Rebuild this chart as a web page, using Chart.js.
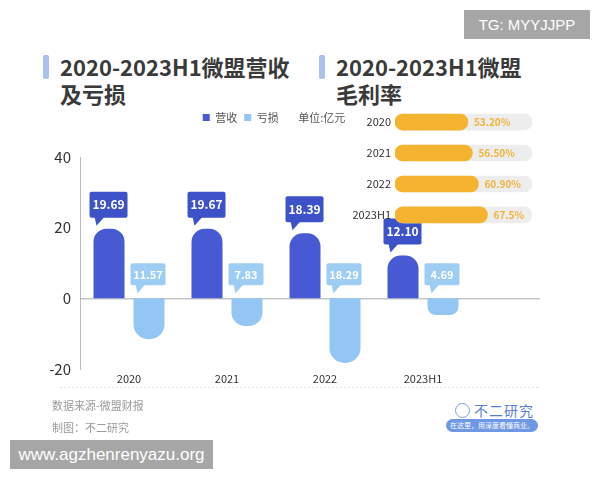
<!DOCTYPE html>
<html>
<head>
<meta charset="utf-8">
<script src="https://cdn.jsdelivr.net/npm/chart.js@4.4.1/dist/chart.umd.min.js"></script>
<style>
  body { margin: 0; width: 600px; height: 480px; background: #fff; position: relative; overflow: hidden;
         font-family: "Noto Sans CJK SC", "Noto Sans", sans-serif; }
  .bar { position: absolute; width: 6px; height: 24px; background: #a9c0f0; border-radius: 2px; }
  .title { position: absolute; font-size: 22px; font-weight: bold; color: #3a3a3a; line-height: 27px; }
  .src { position: absolute; left: 52px; font-size: 11px; color: #9a9a9a; }
  canvas { position: absolute; }
  .wm { position: absolute; background: #a6a6a6; color: #fff; font-family: "Liberation Sans", Arial, sans-serif; }
</style>
</head>
<body>
<div class="bar" style="left:43px; top:55px"></div>
<div class="title" style="left:60px; top:53px">2020-2023H1微盟营收<br>及亏损</div>
<div class="bar" style="left:319px; top:55px"></div>
<div class="title" style="left:336px; top:53px">2020-2023H1微盟<br>毛利率</div>

<canvas id="chartRev" style="left:0; top:105px" width="600" height="295"></canvas>
<canvas id="chartMargin" style="left:340px; top:96px" width="200" height="145"></canvas>

<div class="src" style="top:397px">数据来源-微盟财报</div>
<div class="src" style="top:419px">制图：不二研究</div>

<div style="position:absolute; left:474px; top:400px; font-size:14px; color:#5b7fd0; letter-spacing:1px">不二研究</div>
<div style="position:absolute; left:455px; top:403px; width:13px; height:13px; border:1.5px solid #7f9ee0; border-radius:50%"></div>
<div style="position:absolute; left:446px; top:419px; width:92px; height:13px; background:#6f98e4; border-radius:7px; color:#fff; font-size:7px; line-height:13px; text-align:center">在这里，用深度看懂商业。</div>

<div class="wm" style="left:10px; top:440px; width:203px; height:29px; font-size:17px; line-height:29px; text-align:center">www.agzhenrenyazu.org</div>
<div class="wm" style="left:464px; top:10px; width:126px; height:29px; font-size:15px; line-height:29px; text-align:center">TG: MYYJJPP</div>

<script>
Chart.defaults.font.family = '"Noto Sans CJK SC", "Noto Sans", sans-serif';
Chart.defaults.color = '#333';

const years = ['2020', '2021', '2022', '2023H1'];
const revenue = [19.69, 19.67, 18.39, 12.10];
const loss = [-11.57, -7.83, -18.29, -4.69];
const seriesNames = ['营收', '亏损'];
const unitText = '单位:亿元';
const yTicks = [-20, 0, 20, 40];

const marginYears = ['2020', '2021', '2022', '2023H1'];
const grossMargin = [53.2, 56.5, 60.9, 67.5];
const marginText = ['53.20%', '56.50%', '60.90%', '67.5%'];

const revColor = '#4759d3';
const lossColor = '#93c6f2';

function callout(ctx, left, bottom, w, h, color, text, fontSize) {
    ctx.save();
    ctx.fillStyle = color;
    ctx.beginPath();
    ctx.roundRect(left, bottom - h, w, h, 2);
    ctx.fill();
    ctx.beginPath();
    ctx.moveTo(left + 5, bottom - 1);
    ctx.lineTo(left + 15, bottom - 1);
    ctx.lineTo(left + 7, bottom + 8);
    ctx.closePath();
    ctx.fill();
    ctx.fillStyle = '#fff';
    ctx.font = 'bold ' + fontSize + 'px "Noto Sans CJK SC", sans-serif';
    ctx.textAlign = 'center';
    ctx.textBaseline = 'middle';
    ctx.fillText(text, left + w / 2, bottom - h / 2);
    ctx.restore();
}

const revPlugin = {
    id: 'revExtras',
    beforeInit(chart) {
        const fit = chart.legend.fit;
        chart.legend.fit = function () {
            fit.bind(chart.legend)();
            this.height += 24;
        };
    },
    afterLayout(chart) {
        // legend sits a little right of the plot centre in the original
        chart.legend.left += 18;
        chart.legend.right += 18;
    },
    beforeDatasetsDraw(chart) {
        const ctx = chart.ctx;
        const y0 = chart.scales.y.getPixelForValue(0);
        ctx.save();
        ctx.strokeStyle = '#aaa';
        ctx.lineWidth = 1;
        ctx.beginPath();
        ctx.moveTo(chart.chartArea.left, y0 + 0.5);
        ctx.lineTo(540, y0 + 0.5);
        ctx.stroke();
        ctx.strokeStyle = '#ddd';
        ctx.setLineDash([2, 2]);
        ctx.beginPath();
        ctx.moveTo(60, chart.chartArea.bottom + 18.5);
        ctx.lineTo(540, chart.chartArea.bottom + 18.5);
        ctx.stroke();
        ctx.restore();
    },
    afterDatasetsDraw(chart) {
        const ctx = chart.ctx;
        const y0 = chart.scales.y.getPixelForValue(0);
        chart.getDatasetMeta(0).data.forEach((el, i) => {
            callout(ctx, el.x - el.width / 2 - 4, el.y - 11, 38, 26, '#3d52c8', revenue[i].toFixed(2), 12);
        });
        chart.getDatasetMeta(1).data.forEach((el, i) => {
            callout(ctx, el.x - el.width / 2 - 3, y0 - 13, 35, 22, '#9dcdf3', Math.abs(loss[i]).toFixed(2), 11);
        });
    }
};

new Chart(document.getElementById('chartRev'), {
    type: 'bar',
    data: {
        labels: years,
        datasets: [
            { label: seriesNames[0], data: revenue, backgroundColor: revColor, borderRadius: 13, borderSkipped: 'start',
              categoryPercentage: 0.816, barPercentage: 0.775 },
            { label: seriesNames[1], data: loss, backgroundColor: lossColor, borderRadius: 15, borderSkipped: 'start',
              categoryPercentage: 0.816, barPercentage: 0.775 }
        ]
    },
    options: {
        responsive: false,
        animation: false,
        layout: { padding: { left: 40, right: 128, top: 0, bottom: 9 } },
        plugins: {
            tooltip: { enabled: false },
            legend: {
                position: 'top',
                labels: {
                    boxWidth: 7, boxHeight: 7, padding: 7,
                    font: { size: 11 }, color: '#555',
                    generateLabels(chart) {
                        const items = Chart.defaults.plugins.legend.labels.generateLabels(chart);
                        items.forEach(it => { it.strokeStyle = 'transparent'; it.lineWidth = 0; });
                        items.push({ text: unitText, fillStyle: 'transparent', strokeStyle: 'transparent', lineWidth: 0, hidden: false });
                        return items;
                    }
                }
            }
        },
        scales: {
            x: {
                grid: { display: false, drawTicks: false },
                border: { display: false },
                ticks: { font: { size: 11 }, color: '#333', padding: 3 },
                afterFit(s) { s.height = 22; }
            },
            y: {
                min: -20, max: 40,
                afterBuildTicks(s) { s.ticks = yTicks.map(v => ({ value: v })); },
                grid: { display: false, drawTicks: false },
                border: { display: true, color: '#bbb' },
                ticks: { font: { size: 15 }, color: '#333', padding: 9 },
                afterFit(s) { s.width = 40; }
            }
        }
    },
    plugins: [revPlugin]
});

const marginPlugin = {
    id: 'marginLabels',
    afterDatasetsDraw(chart) {
        const ctx = chart.ctx;
        ctx.save();
        ctx.fillStyle = '#efb23a';
        ctx.font = 'bold 10px "Noto Sans CJK SC", sans-serif';
        ctx.textBaseline = 'middle';
        chart.getDatasetMeta(0).data.forEach((el, i) => {
            ctx.fillText(marginText[i], el.x + 6, el.y);
        });
        ctx.restore();
    }
};

new Chart(document.getElementById('chartMargin'), {
    type: 'bar',
    data: {
        labels: marginYears,
        datasets: [
            { label: '毛利率', data: grossMargin, backgroundColor: '#f4b430', borderRadius: 8, borderSkipped: false, barThickness: 16 },
            { label: 'track', data: marginYears.map(() => 100), backgroundColor: '#ededed', borderRadius: 8, borderSkipped: false, barThickness: 16 }
        ]
    },
    options: {
        indexAxis: 'y',
        responsive: false,
        animation: false,
        layout: { padding: { left: 0, right: 8, top: 0, bottom: 0 } },
        plugins: { legend: { display: false }, tooltip: { enabled: false } },
        datasets: { bar: { grouped: false } },
        scales: {
            x: { display: false, min: 0, max: 100 },
            y: {
                grid: { display: false, drawTicks: false },
                border: { display: false },
                ticks: { font: { size: 11 }, color: '#333', padding: 4 },
                afterFit(s) { s.width = 55; }
            }
        }
    },
    plugins: [marginPlugin]
});
</script>
</body>
</html>
